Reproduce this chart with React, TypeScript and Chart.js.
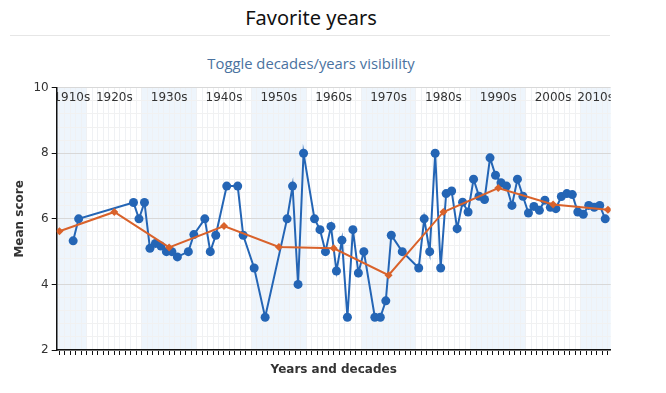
import React, { useEffect, useRef } from 'react';
import { Chart, registerables } from 'chart.js';

Chart.register(...registerables);

// ---- data ----
const YEARS = [
  1917, 1918, 1928, 1929, 1930, 1931, 1932, 1933, 1934, 1935, 1936, 1938, 1939,
  1941, 1942, 1943, 1945, 1947, 1948, 1950, 1952, 1956, 1957, 1958, 1959, 1961,
  1962, 1963, 1964, 1965, 1966, 1967, 1968, 1969, 1970, 1972, 1973, 1974, 1975,
  1977, 1980, 1981, 1982, 1983, 1984, 1985, 1986, 1987, 1988, 1989, 1990, 1991,
  1992, 1993, 1994, 1995, 1996, 1997, 1998, 1999, 2000, 2001, 2002, 2003, 2004,
  2005, 2006, 2007, 2008, 2009, 2010, 2011, 2012, 2013, 2014,
];
const YEAR_SCORES = [
  5.33, 6, 6.5, 6, 6.5, 5.1, 5.25, 5.17, 5, 5, 4.84, 5, 5.52,
  6, 5, 5.5, 7, 7, 5.5, 4.5, 3, 6, 7, 4, 8, 6,
  5.67, 5, 5.77, 4.41, 5.35, 3, 5.67, 4.35, 5, 3, 3, 3.5, 5.5,
  5, 4.5, 6, 5, 8, 4.5, 6.77, 6.85, 5.7, 6.51, 6.21, 7.21, 6.69,
  6.59, 7.86, 7.33, 7.1, 7.0, 6.41, 7.21, 6.69, 6.18, 6.38, 6.26, 6.57, 6.35,
  6.31, 6.68, 6.77, 6.74, 6.21, 6.14, 6.41, 6.35, 6.41, 6.0,
];
const DECADES = [1910, 1920, 1930, 1940, 1950, 1960, 1970, 1980, 1990, 2000, 2010];
const DECADE_LABELS = ['1910s', '1920s', '1930s', '1940s', '1950s', '1960s', '1970s', '1980s', '1990s', '2000s', '2010s'];
const DECADE_SCORES = [5.62, 6.21, 5.13, 5.78, 5.14, 5.1, 4.28, 6.21, 6.94, 6.44, 6.28];
const Y_MAJOR_TICKS = [2, 4, 6, 8, 10];
const X_MIN = 1914;
const X_MAX = 2015;

// ---- styles ----
const BLUE = '#2465b5';
const ORANGE = '#d9622b';
const BAND = '#eef5fc';
const FONT = '"DejaVu Sans", Verdana, sans-serif';

const isMajor = (v: number) => Y_MAJOR_TICKS.some((m) => Math.abs(m - v) < 1e-6);

const decadePlugin = {
  id: 'decadeBands',
  beforeDraw(chart: any) {
    const { ctx, chartArea: a, scales } = chart;
    const x = scales.x;
    ctx.save();
    ctx.beginPath();
    ctx.rect(a.left, a.top, a.right - a.left, a.bottom - a.top);
    ctx.clip();
    DECADES.forEach((d, i) => {
      if (i % 2 === 0) {
        const x0 = x.getPixelForValue(d - 0.5);
        const x1 = x.getPixelForValue(d + 9.5);
        ctx.fillStyle = BAND;
        ctx.fillRect(x0, a.top, x1 - x0, a.bottom - a.top);
      }
    });
    ctx.restore();
  },
  afterDraw(chart: any) {
    const { ctx, chartArea: a, scales } = chart;
    const x = scales.x;
    ctx.save();
    ctx.beginPath();
    ctx.rect(a.left, a.top, a.right - a.left, a.bottom - a.top);
    ctx.clip();
    ctx.font = `12px ${FONT}`;
    ctx.fillStyle = '#333';
    ctx.textAlign = 'center';
    ctx.textBaseline = 'middle';
    DECADES.forEach((d, i) => {
      const lo = Math.max(d - 0.5, X_MIN);
      const hi = Math.min(d + 9.5, X_MAX);
      ctx.fillText(DECADE_LABELS[i], x.getPixelForValue((lo + hi) / 2), a.top + 10.5);
    });
    ctx.restore();
  },
};

export default function App() {
  const ref = useRef<HTMLCanvasElement>(null);

  useEffect(() => {
    if (!ref.current) return;
    const yTicks: number[] = [];
    for (let i = 0; i < Y_MAJOR_TICKS.length - 1; i++) {
      const a = Y_MAJOR_TICKS[i];
      const b = Y_MAJOR_TICKS[i + 1];
      for (let k = 0; k < 5; k++) yTicks.push(a + ((b - a) * k) / 5);
    }
    yTicks.push(Y_MAJOR_TICKS[Y_MAJOR_TICKS.length - 1]);
    const xTicks: number[] = [];
    for (let yr = X_MIN; yr < X_MAX; yr++) xTicks.push(yr + 0.5);

    const chart = new Chart(ref.current, {
      type: 'line',
      data: {
        datasets: [
          {
            label: 'Decades',
            data: DECADES.map((d, i) => ({ x: d + 4.5, y: DECADE_SCORES[i] })),
            borderColor: ORANGE,
            backgroundColor: ORANGE,
            borderWidth: 2,
            pointStyle: 'rectRot',
            pointRadius: 4,
            pointBorderWidth: 0,
            tension: 0,
            order: 1,
          },
          {
            label: 'Years',
            data: YEARS.map((yr, i) => ({ x: yr, y: YEAR_SCORES[i] })),
            borderColor: BLUE,
            backgroundColor: BLUE,
            borderWidth: 2,
            pointRadius: 4.5,
            pointBorderWidth: 0,
            tension: 0,
            order: 2,
          },
        ],
      },
      options: {
        animation: false,
        responsive: false,
        layout: { padding: { top: 12.7, right: 17.3, left: 0, bottom: 0 } },
        plugins: { legend: { display: false }, tooltip: { enabled: false }, title: { display: false } },
        scales: {
          x: {
            type: 'linear',
            min: X_MIN,
            max: X_MAX,
            afterBuildTicks: (s: any) => {
              s.ticks = xTicks.map((v) => ({ value: v }));
            },
            afterFit: (s: any) => {
              s.height = 31;
            },
            ticks: { display: false, autoSkip: false },
            grid: {
              color: '#eff1f4',
              tickColor: '#111',
              tickLength: 5,
              lineWidth: 1,
            },
            border: { display: true, color: '#111', width: 1.5 },
            title: {
              display: true,
              text: 'Years and decades',
              color: '#333',
              font: { family: FONT, size: 12, weight: 'bold' },
              padding: { top: 0, bottom: 4 },
            },
          },
          y: {
            type: 'linear',
            min: 2,
            max: 10,
            afterBuildTicks: (s: any) => {
              s.ticks = yTicks.map((v) => ({ value: v }));
            },
            afterFit: (s: any) => {
              s.width = 48.7;
            },
            ticks: {
              autoSkip: false,
              padding: 3,
              color: '#333',
              font: { family: FONT, size: 12 },
              callback: (v: any) => (isMajor(Number(v)) ? String(Math.round(Number(v))) : ''),
            },
            grid: {
              color: (c: any) => (isMajor(c.tick?.value) ? '#d8d8d8' : '#f1f1f1'),
              tickColor: (c: any) => (isMajor(c.tick?.value) ? '#111' : 'rgba(0,0,0,0)'),
              tickLength: 5,
              lineWidth: 1,
            },
            border: { display: true, color: '#111', width: 1.5 },
            title: {
              display: true,
              text: 'Mean score',
              color: '#333',
              font: { family: FONT, size: 12, weight: 'bold' },
              padding: { top: 5, bottom: 0 },
            },
          },
        },
      },
      plugins: [decadePlugin],
    } as any);
    return () => chart.destroy();
  }, []);

  return (
    <div style={{ position: 'relative', width: 650, height: 377 }}>
      <div
        style={{
          position: 'absolute',
          left: 0,
          top: -2,
          width: 606,
          textAlign: 'center',
          fontFamily: '"Noto Sans", sans-serif',
          fontSize: 20,
          lineHeight: '24px',
          color: '#111',
        }}
      >
        Favorite years
      </div>
      <div style={{ position: 'absolute', left: 2, top: 27, width: 600, height: 1, background: '#e6e6e6' }} />
      <div
        style={{
          position: 'absolute',
          left: 0,
          top: 45,
          width: 606,
          textAlign: 'center',
          fontFamily: '"Open Sans", sans-serif',
          fontSize: 14.8,
          lineHeight: '20px',
          color: '#4a72a0',
        }}
      >
        Toggle decades/years visibility
      </div>
      <canvas ref={ref} width={620} height={306} style={{ position: 'absolute', left: 0, top: 67, width: 620, height: 306 }} />
    </div>
  );
}
